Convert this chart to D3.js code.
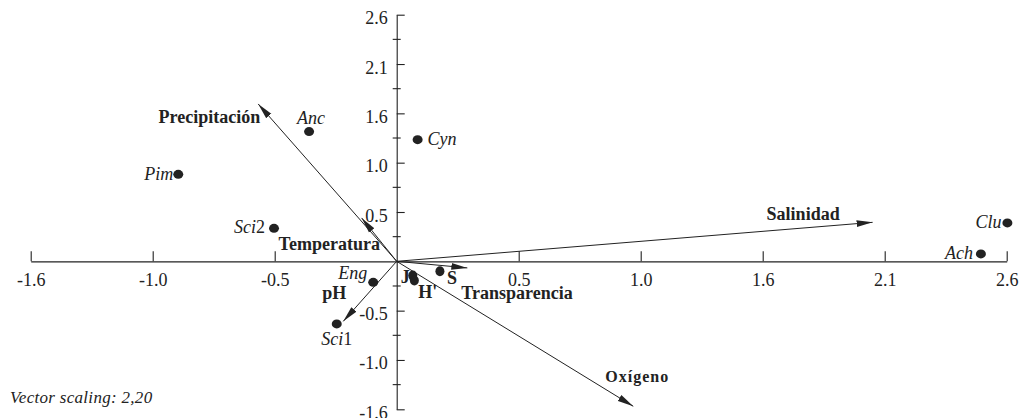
<!DOCTYPE html>
<html>
<head>
<meta charset="utf-8">
<script src="https://cdn.jsdelivr.net/npm/d3@7"></script>
<style>
  body { margin: 0; background: #fff; }
  svg text { font-family: "Liberation Serif", "DejaVu Serif", serif !important; }
</style>
</head>
<body>
<svg class="biplot" width="1021" height="418"></svg>
<script>
// species scores (axis 1, axis 2)
const speciesNames = ["Anc", "Cyn", "Pim", "Sci2", "Eng", "Sci1", "Clu", "Ach"];
const speciesX = [-0.377, 0.090, -0.940, -0.528, -0.101, -0.258, 2.628, 2.514];
const speciesY = [1.381, 1.295, 0.926, 0.351, -0.224, -0.666, 0.409, 0.079];

// diversity indices plotted as points
const indexNames = ["J", "H'", "S"];
const indexX = [0.069, 0.076, 0.186];
const indexY = [-0.152, -0.205, -0.106];

// environmental vectors (tips)
const envNames = ["Precipitación", "Temperatura", "Salinidad", "Transparencia", "Oxígeno", "pH"];
const envX = [-0.596, -0.151, 2.048, 0.304, 1.018, -0.230];
const envY = [1.675, 0.462, 0.415, -0.070, -1.543, -0.639];

// axis ticks (one step = 0.525)
const tickStep = 0.525;
const xTickIndex = [-3, -2, -1, 1, 2, 3, 4, 5];
const xTickLabels = ["-1.6", "-1.0", "-0.5", "0.5", "1.0", "1.6", "2.1", "2.6"];
const yTickIndex = [5, 4, 3, 2, 1, -1, -2, -3];
const yTickLabels = ["2.6", "2.1", "1.6", "1.0", "0.5", "-0.5", "-1.0", "-1.6"];

// label placement: [dx, dy, anchor]
const speciesLabelPos = {
  "Anc": [2, -8, "middle"], "Cyn": [10, 5.5, "start"], "Pim": [-5, 5.5, "end"],
  "Sci2": [-9, 5, "end"], "Eng": [-6, -3, "end"], "Sci1": [0, 21, "middle"],
  "Clu": [-6, 5, "end"], "Ach": [-8, 5, "end"]
};
const indexLabelPos = { "J": [-3, 7, "end"], "H'": [4, 17, "start"], "S": [7, 13, "start"] };
const envLabelPos = {
  "Precipitación": [2, 19, "end"], "Temperatura": [-83, 32, "start"],
  "Salinidad": [-106, -2, "start"], "Transparencia": [-6, 31, "start"],
  "Oxígeno": [-28, -24, "start"], "pH": [-21, -22, "start"]
};

const ink = "#222";

const svg = d3.select(".biplot");

// scales
const x = d3.scaleLinear().domain([-3 * tickStep, 5 * tickStep]).range([30.7, 1006.7]);
const y = d3.scaleLinear().domain([-3 * tickStep, 5 * tickStep]).range([409.3, 14.7]);

// arrow marker
svg.append("defs").append("marker")
  .attr("id", "head")
  .attr("viewBox", "0 0 16 8")
  .attr("refX", 16).attr("refY", 4)
  .attr("markerWidth", 16).attr("markerHeight", 8)
  .attr("markerUnits", "userSpaceOnUse")
  .attr("orient", "auto")
  .append("path")
  .attr("d", "M0,0.6 L16,4 L0,7.4 Z")
  .attr("fill", ink);

// x axis through origin, ticks going up
const xAxis = svg.append("g")
  .attr("transform", `translate(0,${y(0)})`)
  .call(d3.axisBottom(x)
    .tickValues(xTickIndex.map(i => i * tickStep))
    .tickFormat((d, i) => xTickLabels[i])
    .tickSizeInner(-10).tickSizeOuter(0).tickPadding(11.5));

// y axis through origin, ticks both sides
const yAxis = svg.append("g")
  .attr("transform", `translate(${x(0)},0)`)
  .call(d3.axisLeft(y)
    .tickValues(yTickIndex.map(i => i * tickStep))
    .tickFormat((d, i) => yTickLabels[i])
    .tickSizeInner(8).tickSizeOuter(0).tickPadding(1));
yAxis.selectAll(".tick line").attr("x2", 8);
yAxis.selectAll(".tick text").attr("dy", "0.5em");

// minor ticks on y axis
const minor = d3.range(-3, 5).map(i => (i + 0.5) * tickStep);
yAxis.selectAll("line.minor")
  .data(minor)
  .join("line")
  .attr("class", "minor")
  .attr("x1", -4).attr("x2", 4)
  .attr("y1", d => y(d)).attr("y2", d => y(d))
  .attr("stroke", ink);

[xAxis, yAxis].forEach(a => {
  a.attr("font-family", null).attr("font-size", 18);
  a.selectAll("path, line").attr("stroke", ink).attr("stroke-width", 1.1);
  a.selectAll("text").attr("fill", ink);
});

// environmental vectors
const env = envNames.map((n, i) => ({ name: n, x: envX[i], y: envY[i] }));
svg.selectAll("line.vec")
  .data(env)
  .join("line")
  .attr("class", "vec")
  .attr("x1", x(0)).attr("y1", y(0))
  .attr("x2", d => x(d.x)).attr("y2", d => y(d.y))
  .attr("stroke", ink).attr("stroke-width", 1)
  .attr("marker-end", "url(#head)");

svg.selectAll("text.vec")
  .data(env)
  .join("text")
  .attr("class", "vec")
  .attr("x", d => x(d.x) + envLabelPos[d.name][0])
  .attr("y", d => y(d.y) + envLabelPos[d.name][1])
  .attr("text-anchor", d => envLabelPos[d.name][2])
  .attr("font-weight", "bold")
  .attr("font-size", d => d.name === "Oxígeno" ? 16 : 18)
  .attr("letter-spacing", d => d.name === "Oxígeno" ? 1 : 0)
  .attr("fill", ink)
  .text(d => d.name);

// diversity index points
const idx = indexNames.map((n, i) => ({ name: n, x: indexX[i], y: indexY[i] }));
svg.selectAll("ellipse.idx")
  .data(idx)
  .join("ellipse")
  .attr("class", "idx")
  .attr("cx", d => x(d.x)).attr("cy", d => y(d.y))
  .attr("rx", 4.5).attr("ry", 5)
  .attr("fill", ink);

svg.selectAll("text.idx")
  .data(idx)
  .join("text")
  .attr("class", "idx")
  .attr("x", d => x(d.x) + indexLabelPos[d.name][0])
  .attr("y", d => y(d.y) + indexLabelPos[d.name][1])
  .attr("text-anchor", d => indexLabelPos[d.name][2])
  .attr("font-weight", "bold")
  .attr("font-size", 18)
  .attr("fill", ink)
  .text(d => d.name);

// species points
const species = speciesNames.map((n, i) => ({ name: n, x: speciesX[i], y: speciesY[i] }));
svg.selectAll("ellipse.sp")
  .data(species)
  .join("ellipse")
  .attr("class", "sp")
  .attr("cx", d => x(d.x)).attr("cy", d => y(d.y))
  .attr("rx", 5).attr("ry", 4.5)
  .attr("fill", ink);

// species labels: italic name, trailing digit upright
const spText = svg.selectAll("text.sp")
  .data(species)
  .join("text")
  .attr("class", "sp")
  .attr("x", d => x(d.x) + speciesLabelPos[d.name][0])
  .attr("y", d => y(d.y) + speciesLabelPos[d.name][1])
  .attr("text-anchor", d => speciesLabelPos[d.name][2])
  .attr("font-size", 18)
  .attr("fill", ink);
spText.append("tspan").attr("font-style", "italic").text(d => d.name.replace(/\d/g, ""));
spText.append("tspan").text(d => d.name.replace(/\D/g, ""));

// note
svg.append("text")
  .attr("x", 10).attr("y", 403)
  .attr("font-style", "italic")
  .attr("font-size", 17)
  .attr("letter-spacing", 0.3)
  .attr("fill", ink)
  .text("Vector scaling: 2,20");
</script>
</body>
</html>
